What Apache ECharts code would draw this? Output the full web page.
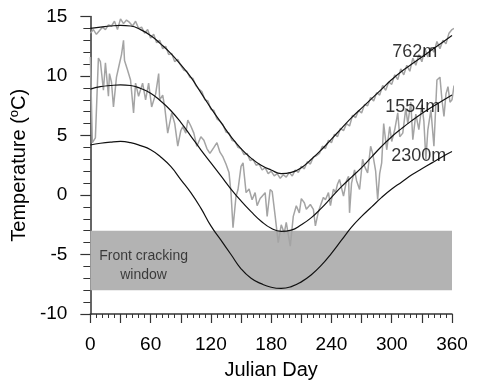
<!DOCTYPE html>
<html><head><meta charset="utf-8">
<script src="https://cdn.jsdelivr.net/npm/echarts@6/dist/echarts.min.js"></script>
<style>html,body{margin:0;padding:0;background:#fff}#c{width:477px;height:385px}</style>
</head><body><div id="c"></div>
<script>
// ---- data ----
const modelDays = [0,10,20,30,40,50,60,70,80,90,100,110,120,130,140,150,160,170,180,190,200,210,220,230,240,250,260,270,280,290,300,310,320,330,340,350,360];
const model762  = [14.0,14.1,14.2,14.25,14.2,13.9,13.4,12.7,11.9,10.95,9.9,8.6,7.3,6.1,4.9,3.9,3.1,2.5,2.1,1.8,1.9,2.3,3.0,3.8,4.7,5.6,6.5,7.3,8.1,8.9,9.7,10.4,11.0,11.6,12.2,12.8,13.4];
const model1554 = [8.9,9.1,9.2,9.25,9.2,8.95,8.55,7.9,7.1,6.1,4.95,3.8,2.7,1.6,0.5,-0.5,-1.4,-2.2,-2.8,-3.05,-2.95,-2.5,-1.9,-1.1,-0.2,0.7,1.5,2.3,3.2,4.1,4.9,5.6,6.25,6.85,7.4,7.9,8.4];
const model2300 = [4.2,4.35,4.45,4.5,4.4,4.15,3.8,3.2,2.4,1.3,0.2,-1.1,-2.6,-3.8,-5.0,-6.2,-7.0,-7.45,-7.75,-7.85,-7.7,-7.3,-6.7,-5.9,-4.9,-3.8,-2.7,-1.8,-1.0,-0.2,0.5,1.1,1.7,2.2,2.7,3.2,3.65];

const obs762Days = [0,3,6,9,12,15,18,21,24,27,30,33,36,39,42,45,48,51,54,57,60,63,66,69,72,75,78,81,84,87,90,93,96,99,102,105,108,111,114,117,120,123,126,129,132,135,138,141,144,147,150,153,156,159,162,165,168,171,174,177,180,183,186,189,192,195,198,201,204,207,210,213,216,219,222,225,228,231,234,237,240,243,246,249,252,255,258,261,264,267,270,273,276,279,282,285,288,291,294,297,300,303,306,309,312,315,318,321,324,327,330,333,336,339,342,345,348,351,354,357,360,362];
const obs762 = [13.6,13.9,13.5,13.8,14.1,13.9,14.3,14.2,14.6,13.9,14.8,14.4,14.7,14.5,14.2,14.6,14.0,14.1,13.6,13.9,13.2,13.5,12.8,13.0,12.3,12.5,11.8,11.9,11.2,11.4,10.9,10.5,10.4,9.9,9.8,9.2,8.9,8.7,8.0,7.9,7.2,7.1,6.4,6.2,5.9,5.3,5.2,4.6,4.5,4.0,3.9,3.4,3.5,2.9,3.0,2.5,2.6,2.1,2.3,1.8,2.0,1.6,1.8,1.4,1.7,1.5,1.9,1.6,2.1,1.9,2.4,2.2,2.8,2.6,3.2,3.3,3.5,4.1,3.9,4.6,4.4,5.1,4.9,5.6,5.4,6.0,5.8,6.7,6.5,7.1,6.9,7.6,7.5,8.2,7.9,8.6,8.4,9.2,8.8,9.5,9.3,10.1,9.7,10.6,10.1,10.9,10.4,11.5,10.9,11.8,11.2,12.3,11.6,12.4,12.0,12.9,12.3,13.0,12.7,13.6,13.9,14.0];

const obs1554Days = [0,2,5,8,10,13,15,18,19,21,23,26,29,31,33,34,37,40,43,45,48,52,55,58,61,65,68,69,72,74,77,81,84,87,90,92,95,97,100,103,106,110,113,116,119,123,126,129,132,135,138,140,142,145,147,150,152,155,158,161,164,166,169,171,174,176,179,181,184,187,190,193,195,199,202,205,208,210,213,215,219,222,224,227,229,232,234,237,239,242,244,246,248,250,252,255,257,258,260,263,265,268,271,273,276,279,281,284,286,288,290,292,295,298,300,303,306,308,311,314,316,319,321,324,327,330,332,334,336,339,342,345,348,350,352,354,356,358,360,362];
const obs1554 = [11.6,4.4,4.8,11.5,11.2,8.8,11.1,8.3,10.2,9.5,7.4,9.9,11.05,11.8,13.0,11.3,10.5,9.66,6.9,9.4,8.3,9.4,8.0,9.4,7.4,8.5,10.2,8.0,8.4,7.4,5.2,6.9,6.0,4.1,5.4,5.75,5.2,6.3,5.8,5.2,4.1,4.9,4.6,3.9,3.5,4.0,4.4,3.6,3.2,2.6,1.9,0.2,-2.75,-0.1,0.46,2.4,2.7,0.2,0.5,-0.4,0.2,-0.9,-0.3,-0.1,0.2,-1.8,0.46,0.3,-1.8,-4.0,-2.5,-3.2,-2.3,-4.3,-1.8,-0.9,-1.5,-0.3,-0.65,-1.2,-0.8,-1.2,-2.6,-1.4,-0.9,-0.2,-0.4,0.2,-0.9,0.5,0.2,0.9,1.3,0.6,-0.1,1.2,1.57,-1.5,1.0,2.1,1.2,0.46,3.0,2.4,1.86,4.1,3.5,2.0,-0.38,1.8,2.7,6.0,3.8,5.75,4.5,5.5,6.9,4.9,5.2,7.3,6.0,7.8,4.64,6.8,5.5,7.6,6.2,3.0,5.5,7.15,4.1,9.66,9.9,8.0,6.6,8.5,9.1,7.8,8.0,9.2];

const xMin = 0, xMax = 360, xStep = 30, xMinorStep = 6, xLabelStep = 60;
const yMin = -10, yMax = 15, yStep = 5, yMinorStep = 1;
const windowTop = -3, windowBottom = -8;
const windowLabel = 'Front cracking\nwindow';
const curveNames = ['762m', '1554m', '2300m'];

// ---- chart ----
const FONT = 'Liberation Sans, Arial, sans-serif';
const AX = '#333';
const zip = (xs, ys) => xs.map((x, i) => [x, ys[i]]);

const minorX = {
  type: 'value', min: xMin, max: xMax, interval: xMinorStep, position: 'bottom', offset: 0,
  axisLine: {show: false, onZero: false},
  axisTick: {show: true, inside: false, length: 4, lineStyle: {color: AX, width: 1}},
  axisLabel: {show: false}, splitLine: {show: false}
};
const minorY = {
  type: 'value', min: yMin, max: yMax, interval: yMinorStep, position: 'left', offset: 0,
  axisLine: {show: false, onZero: false},
  axisTick: {show: true, inside: false, length: 7, lineStyle: {color: AX, width: 1}},
  axisLabel: {show: false}, splitLine: {show: false}
};

const chart = echarts.init(document.getElementById('c'), null, {renderer: 'canvas'});
chart.setOption({
  animation: false,
  backgroundColor: '#fff',
  grid: {left: 80, right: 25, top: 16.5, bottom: 69.5, containLabel: false},
  xAxis: [{
    type: 'value', min: xMin, max: xMax, interval: xStep, position: 'bottom',
    name: 'Julian Day', nameLocation: 'middle', nameGap: 46,
    nameTextStyle: {fontFamily: FONT, fontSize: 20, color: '#000'},
    axisLine: {onZero: false, lineStyle: {color: AX, width: 1.5}},
    axisTick: {inside: false, length: 9, lineStyle: {color: AX, width: 1.2}},
    splitLine: {show: false},
    axisLabel: {fontFamily: FONT, fontSize: 19, color: '#000', margin: 21,
      formatter: v => (v % xLabelStep === 0 ? String(v) : '')}
  }, minorX],
  yAxis: [{
    type: 'value', min: yMin, max: yMax, interval: yStep, position: 'left',
    name: '{a|Temperature (}{b|o}{a|C)}', nameLocation: 'middle', nameGap: 42,
    nameTextStyle: {fontFamily: FONT, fontSize: 20, color: '#000',
      rich: {a: {fontFamily: FONT, fontSize: 20, color: '#000', lineHeight: 22},
             b: {fontFamily: FONT, fontSize: 13, color: '#000', verticalAlign: 'top', lineHeight: 22, padding: [0, 0, 8, 0]}}},
    axisLine: {onZero: false, lineStyle: {color: AX, width: 1.5}},
    axisTick: {inside: false, length: 10, lineStyle: {color: AX, width: 1.2}},
    splitLine: {show: false},
    axisLabel: {fontFamily: FONT, fontSize: 19, color: '#000', margin: 23}
  }, minorY],
  series: [
    {
      type: 'line', data: [], z: 1, silent: true,
      markArea: {silent: true, itemStyle: {color: '#b3b3b3'},
        label: {show: false},
        data: [[{xAxis: xMin, yAxis: windowTop}, {xAxis: xMax, yAxis: windowBottom}]]}
    },
    {type: 'scatter', z: 2, silent: true, symbolSize: 0,
      data: [[53, -5.95]],
      label: {show: true, position: 'inside', formatter: windowLabel, fontFamily: FONT, fontSize: 14, color: '#1a1a1a', lineHeight: 19, align: 'center'}},
    {type: 'line', z: 3, data: zip(obs762Days, obs762), showSymbol: false, symbol: 'none',
      lineStyle: {color: '#a4a4a4', width: 1.5}},
    {type: 'line', z: 3, data: zip(obs1554Days, obs1554), showSymbol: false, symbol: 'none',
      lineStyle: {color: '#a4a4a4', width: 1.5}},
    {type: 'line', z: 4, data: zip(modelDays, model762), smooth: true, showSymbol: false, symbol: 'none',
      lineStyle: {color: '#111', width: 1.2}},
    {type: 'line', z: 4, data: zip(modelDays, model1554), smooth: true, showSymbol: false, symbol: 'none',
      lineStyle: {color: '#111', width: 1.2}},
    {type: 'line', z: 4, data: zip(modelDays, model2300), smooth: true, showSymbol: false, symbol: 'none',
      lineStyle: {color: '#111', width: 1.2}},
    {type: 'scatter', z: 5, silent: true, symbolSize: 0,
      data: [[323, 12.04, curveNames[0]], [321, 7.42, curveNames[1]], [327, 3.24, curveNames[2]]],
      label: {show: true, position: 'inside', formatter: p => p.data[2], fontFamily: FONT, fontSize: 18, color: '#000'}}
  ]
});
</script></body></html>
